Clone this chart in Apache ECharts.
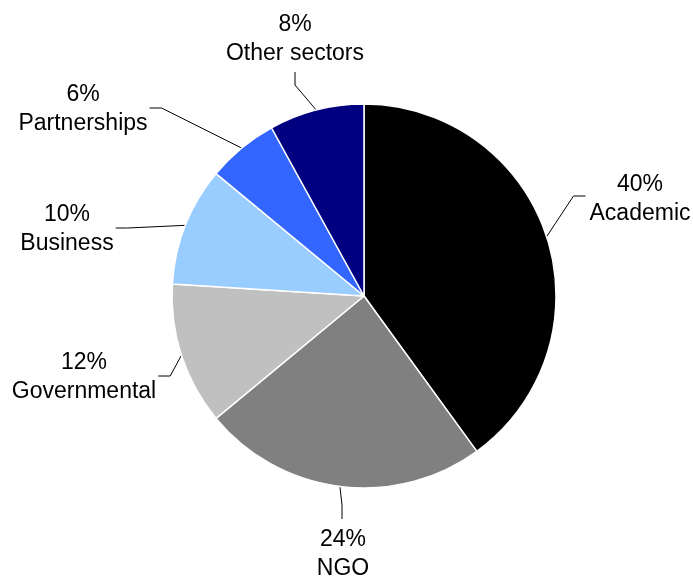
<!DOCTYPE html>
<html>
<head>
<meta charset="utf-8">
<script src="https://cdn.jsdelivr.net/npm/echarts@6/dist/echarts.min.js"></script>
<style>
  html, body { margin: 0; padding: 0; background: #ffffff; }
  #chart { width: 693px; height: 579px; }
</style>
</head>
<body>
<div id="chart"></div>
<script>
// Share of participants by sector (percent)
const sectors = ['Academic', 'NGO', 'Governmental', 'Business', 'Partnerships', 'Other sectors'];
const shares = [40, 24, 12, 10, 6, 8];
const sliceColors = ['#000000', '#808080', '#c0c0c0', '#99ccff', '#3366ff', '#000080'];

// Where each two-line label sits (centre of the text block) and which side
// of the text the leader line attaches to.
const labelSpots = [
  { x: 640, y: 199, side: 'left' },
  { x: 343, y: 554, side: 'top' },
  { x: 84,  y: 377, side: 'right' },
  { x: 67,  y: 229, side: 'right' },
  { x: 83,  y: 109, side: 'right' },
  { x: 295, y: 39,  side: 'bottom' }
];

const LABEL_FONT = '23px "Liberation Sans", Arial, sans-serif';
const measureCtx = document.createElement('canvas').getContext('2d');
measureCtx.font = LABEL_FONT;
function labelTextWidth(i) {
  const lines = [shares[i] + '%', sectors[i]];
  return Math.max.apply(null, lines.map(t => measureCtx.measureText(t).width));
}

const chart = echarts.init(document.getElementById('chart'), null, { renderer: 'canvas' });

const seriesData = sectors.map((name, i) => ({
  name: name,
  value: shares[i],
  itemStyle: { color: sliceColors[i] }
}));

chart.setOption({
  animation: false,
  backgroundColor: '#ffffff',
  series: [{
    type: 'pie',
    center: [364, 296],
    radius: 192,
    startAngle: 90,
    clockwise: true,
    avoidLabelOverlap: false,
    data: seriesData,
    itemStyle: { borderColor: '#ffffff', borderWidth: 1.5 },
    label: {
      show: true,
      position: 'outside',
      formatter: p => p.value + '%\n' + p.name,
      fontFamily: '"Liberation Sans", Arial, sans-serif',
      fontSize: 23,
      lineHeight: 29,
      color: '#000000',
      align: 'center',
      width: 170,
      overflow: 'none'
    },
    labelLine: {
      show: true,
      lineStyle: { color: '#000000', width: 1 }
    },
    labelLayout: function (params) {
      const spot = labelSpots[params.dataIndex];
      const w = labelTextWidth(params.dataIndex);
      const h = params.labelRect.height;
      const edge = params.labelLinePoints ? params.labelLinePoints[0] : [spot.x, spot.y];
      const tail = 12;
      let end, bend;
      if (spot.side === 'left') {
        end = [spot.x - w / 2 - 4, spot.y - 3];
        bend = [end[0] - tail, end[1]];
      } else if (spot.side === 'right') {
        end = [spot.x + w / 2 + 2, spot.y - 1];
        bend = [end[0] + tail, end[1]];
      } else if (spot.side === 'top') {
        end = [spot.x - 1, spot.y - h / 2 - 6];
        bend = [end[0], end[1] - 14];
      } else {
        end = [spot.x, spot.y + h / 2 + 4];
        bend = [end[0], end[1] + 13];
      }
      return {
        x: spot.x,
        y: spot.y,
        align: 'center',
        verticalAlign: 'middle',
        labelLinePoints: [edge, bend, end]
      };
    }
  }]
});
</script>
</body>
</html>
